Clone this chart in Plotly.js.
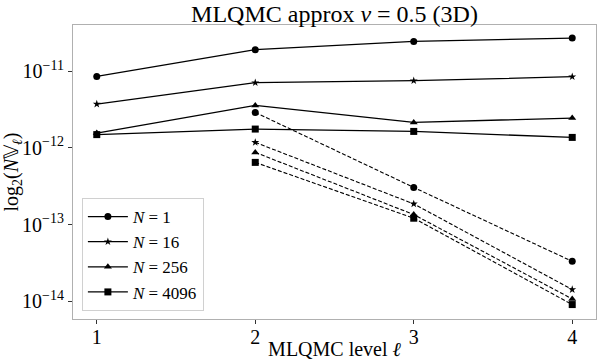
<!DOCTYPE html>
<html>
<head>
<meta charset="utf-8">
<script src="https://cdn.plot.ly/plotly-3.0.1.min.js"></script>
<style>html,body{margin:0;padding:0;background:#fff;}#chart{width:598px;height:360px;}</style>
</head>
<body>
<div id="chart"></div>
<script>
// MLQMC levels
const levels = [1, 2, 3, 4];
const dashedLevels = [2, 3, 4];
const seriesNames = ["N = 1", "N = 16", "N = 256", "N = 4096"];
const legendLabels = ["<i>N</i> = 1", "<i>N</i> = 16", "<i>N</i> = 256", "<i>N</i> = 4096"];
const markerSymbols = ["circle", "star", "triangle-up", "square"];

// solid lines (levels 1..4)
const solidN1    = [8.55e-12, 1.91e-11, 2.45e-11, 2.71e-11];
const solidN16   = [3.73e-12, 7.08e-12, 7.52e-12, 8.48e-12];
const solidN256  = [1.56e-12, 3.58e-12, 2.15e-12, 2.45e-12];
const solidN4096 = [1.49e-12, 1.76e-12, 1.64e-12, 1.37e-12];

// dashed lines (levels 2..4)
const dashN1    = [2.90e-12, 3.05e-13, 3.31e-14];
const dashN16   = [1.18e-12, 1.86e-13, 1.42e-14];
const dashN256  = [8.73e-13, 1.35e-13, 1.07e-14];
const dashN4096 = [6.47e-13, 1.21e-13, 9.04e-15];

const yTickVals = [1e-14, 1e-13, 1e-12, 1e-11];
const yTickText = ["10<sup>−14</sup>", "10<sup>−13</sup>", "10<sup>−12</sup>", "10<sup>−11</sup>"];
const xTickVals = [1, 2, 3, 4];

const solids = [solidN1, solidN16, solidN256, solidN4096];
const dashes = [dashN1, dashN16, dashN256, dashN4096];
const msize = [7, 6, 7, 7];

const traces = [];
solids.forEach((ys, i) => {
  traces.push({
    x: levels, y: ys, type: 'scatter', mode: 'lines+markers',
    name: legendLabels[i], showlegend: true,
    line: {color: '#000', width: 1.3},
    marker: {symbol: markerSymbols[i], size: msize[i], color: '#000'}
  });
});
dashes.forEach((ys, i) => {
  traces.push({
    x: dashedLevels, y: ys, type: 'scatter', mode: 'lines+markers',
    name: seriesNames[i] + ' (dashed)', showlegend: false,
    line: {color: '#000', width: 1.1, dash: '4px,2px'},
    marker: {symbol: markerSymbols[i], size: msize[i], color: '#000'}
  });
});

const serif = "Liberation Serif";
const layout = {
  width: 598, height: 360,
  margin: {l: 73, r: 2, t: 25, b: 41},
  paper_bgcolor: '#fff', plot_bgcolor: '#fff',
  font: {family: serif, color: '#000', size: 20},
  title: {text: "MLQMC approx <i>ν</i> = 0.5 (3D)", font: {family: serif, size: 24, color: '#000'},
          x: 0.5, xref: 'paper', y: 0.963, yref: 'container', yanchor: 'middle'},
  xaxis: {
    range: [0.85, 4.15], tickvals: xTickVals, ticktext: ['1','2','3','4'],
    ticks: 'outside', ticklen: 4, tickcolor: '#333', showgrid: false, zeroline: false,
    showline: true, linecolor: '#b0b0b0', linewidth: 1, mirror: true,
    tickfont: {size: 20, family: serif}, ticklabelstandoff: -4,
    title: {text: "MLQMC level <i>ℓ</i>", font: {size: 20, family: serif}, standoff: 0}
  },
  yaxis: {
    type: 'log', range: [-14.232, -10.397],
    tickvals: yTickVals, ticktext: yTickText,
    ticks: 'outside', ticklen: 4, tickcolor: '#333', showgrid: false, zeroline: false,
    showline: true, linecolor: '#b0b0b0', linewidth: 1, mirror: true,
    tickfont: {size: 20, family: serif},
    title: {text: "log<sub>2</sub>(<i>N</i>𝕍<sub><i>ℓ</i></sub>)", font: {size: 20, family: serif}, standoff: 6}
  },
  legend: {
    x: 0.017, y: 0.027, xanchor: 'left', yanchor: 'bottom',
    bgcolor: 'rgba(255,255,255,0.8)', bordercolor: '#d0d0d0', borderwidth: 1,
    font: {size: 17, family: serif}, tracegroupgap: 0, itemwidth: 40
  }
};

Plotly.newPlot('chart', traces, layout, {displayModeBar: false, staticPlot: true});
</script>
</body>
</html>
